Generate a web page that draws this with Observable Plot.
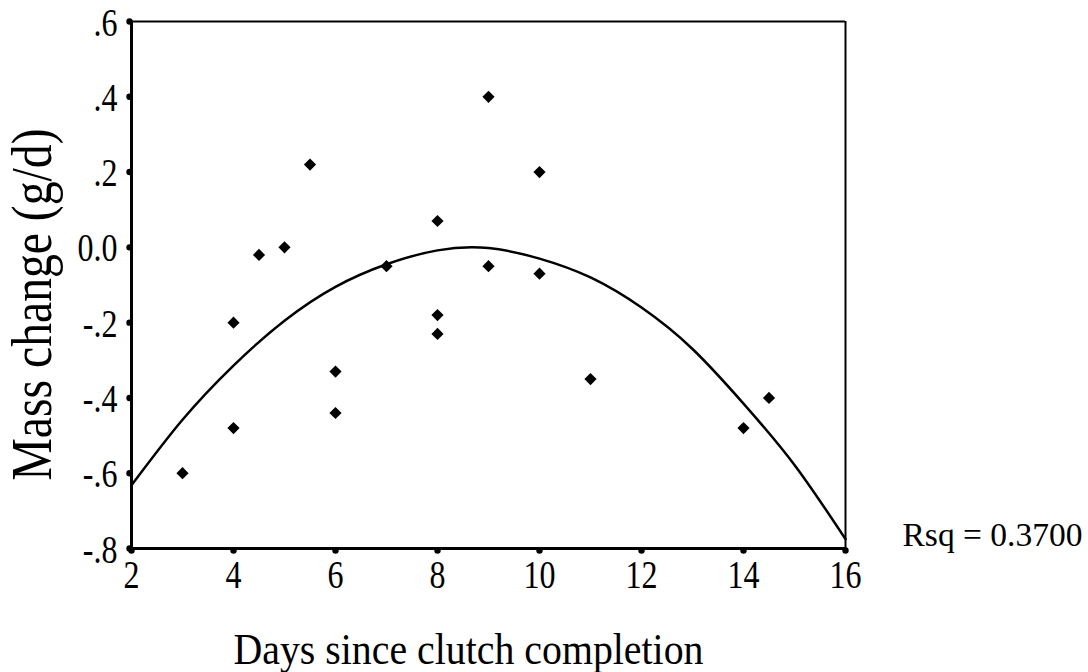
<!DOCTYPE html>
<html>
<head>
<meta charset="utf-8">
<script src="https://cdn.jsdelivr.net/npm/d3@7"></script>
<script src="https://cdn.jsdelivr.net/npm/@observablehq/plot@0.6"></script>
<style>
  html, body { margin: 0; padding: 0; background: #fff; }
  svg { display: block; }
</style>
</head>
<body>
<div id="chart"></div>
<script>
// Observed data (days since clutch completion, mass change g/d)
const days = [3, 4, 4, 4.5, 5, 5.5, 6, 6, 7, 8, 8, 8, 9, 9, 10, 10, 11, 14, 14.5];
const massChange = [-0.60, -0.20, -0.48, -0.02, 0.00, 0.22, -0.33, -0.44, -0.05, 0.07, -0.18, -0.23, 0.40, -0.05, 0.20, -0.07, -0.35, -0.48, -0.40];

// Quadratic fit curve
const fitDays = [2, 3, 4, 5, 6, 7, 8, 9, 10, 11, 12, 13, 14, 15, 16];
const fitMass = [-0.632, -0.458, -0.314, -0.195, -0.105, -0.045, -0.008, -0.002, -0.03, -0.08, -0.16, -0.27, -0.415, -0.578, -0.775];

// Axis ticks and labels
const xTicks = [2, 4, 6, 8, 10, 12, 14, 16];
const xTickLabels = ["2", "4", "6", "8", "10", "12", "14", "16"];
const yTicks = [0.6, 0.4, 0.2, 0, -0.2, -0.4, -0.6, -0.8];
const yTickLabels = [".6", ".4", ".2", "0.0", "-.2", "-.4", "-.6", "-.8"];
const xTitle = "Days since clutch completion";
const yTitle = "Mass change (g/d)";
const rsqLabel = "Rsq = 0.3700";

const points = days.map((d, i) => ({x: d, y: massChange[i]}));
const fit = fitDays.map((d, i) => ({x: d, y: fitMass[i]}));
const xTickData = xTicks.map((t, i) => ({x: t, label: xTickLabels[i]}));
const yTickData = yTicks.map((t, i) => ({y: t, label: yTickLabels[i]}));

const font = "'Liberation Serif', 'Times New Roman', serif";

const chart = Plot.plot({
  width: 1088,
  height: 672,
  marginLeft: 131,
  marginRight: 243,
  marginTop: 21,
  marginBottom: 124,
  style: {fontFamily: font, background: "#fff", color: "#000", overflow: "visible"},
  x: {domain: [2, 16], axis: null},
  y: {domain: [-0.8, 0.6], axis: null},
  marks: [
    Plot.ruleY([0.6], {stroke: "#000", strokeWidth: 2}),
    Plot.ruleX([16], {stroke: "#000", strokeWidth: 2}),
    Plot.ruleX([2], {stroke: "#000", strokeWidth: 3}),
    Plot.ruleY([-0.8], {stroke: "#000", strokeWidth: 3}),
    Plot.dot(xTicks, {x: d => d, y: () => -0.8, r: 3.2, fill: "#000", dy: 2}),
    Plot.dot(yTicks, {x: () => 2, y: d => d, r: 3.2, fill: "#000", dx: -2}),
    Plot.text(xTickData, {x: "x", y: () => -0.8, text: "label", lineAnchor: "bottom", dy: 39, fontSize: 41, fill: "#000", ariaDescription: "xtick"}),
    Plot.text(yTickData, {x: () => 2, y: "y", text: "label", textAnchor: "end", lineAnchor: "middle", dx: -14, dy: 1, fontSize: 41, fill: "#000", ariaDescription: "ytick"}),
    Plot.line(fit, {x: "x", y: "y", curve: "natural", stroke: "#000", strokeWidth: 2.5}),
    Plot.dot(points, {x: "x", y: "y", symbol: "diamond2", r: 5.5, fill: "#000", stroke: "none"}),
    Plot.text([rsqLabel], {x: () => 16, y: () => -0.8, dx: 57, dy: -3, textAnchor: "start", lineAnchor: "bottom", fontSize: 33, fill: "#000", ariaDescription: "rsq"}),
    Plot.text([xTitle], {frameAnchor: "bottom", textAnchor: "middle", lineAnchor: "bottom", dx: -20, dy: 115, fontSize: 45, fill: "#000", ariaDescription: "xtitle"}),
    Plot.text([yTitle], {frameAnchor: "left", textAnchor: "middle", lineAnchor: "bottom", rotate: -90, dx: -81, dy: 19.5, fontSize: 56, fill: "#000", ariaDescription: "ytitle"})
  ]
});
document.getElementById("chart").appendChild(chart);

// Adjust text widths to match the narrower glyph proportions of the original
function squeeze(label, opts) {
  chart.querySelectorAll(`g[aria-description="${label}"] text`).forEach(t => {
    const natural = t.getComputedTextLength();
    const target = opts.length != null ? opts.length : natural * opts.factor;
    t.setAttribute("textLength", target);
    t.setAttribute("lengthAdjust", "spacingAndGlyphs");
  });
}
squeeze("xtick", {factor: 0.78});
squeeze("ytick", {factor: 0.78});
squeeze("rsq", {length: 180});
squeeze("xtitle", {length: 470});
squeeze("ytitle", {length: 352});
</script>
</body>
</html>
